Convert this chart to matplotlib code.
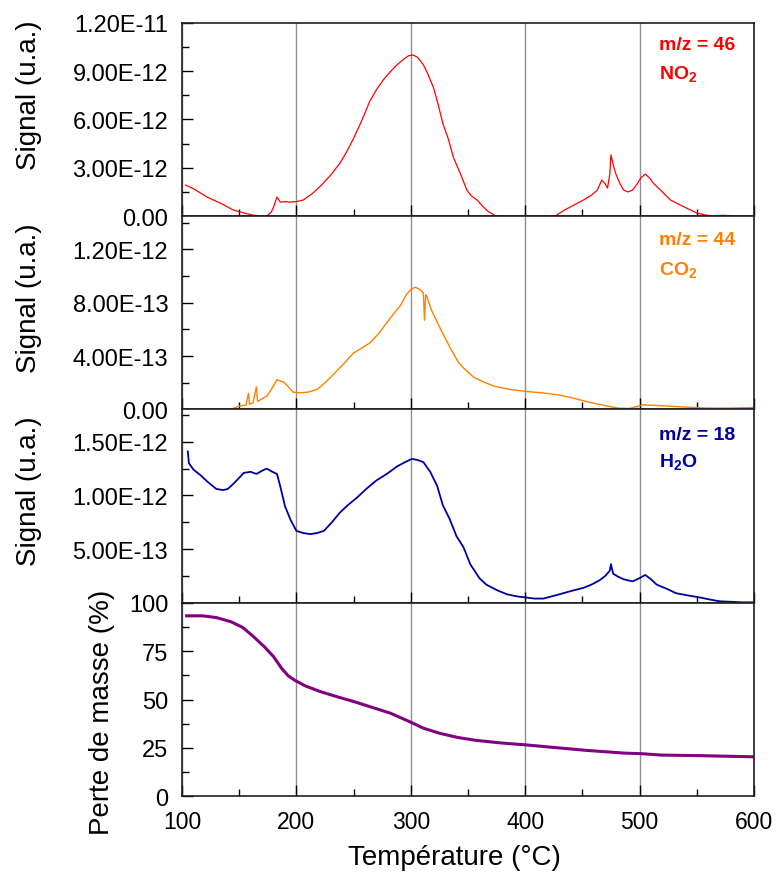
import matplotlib
matplotlib.use("Agg")
import matplotlib.pyplot as plt
from matplotlib.ticker import MultipleLocator, FuncFormatter, FixedLocator

plt.rcParams['font.family'] = ['Liberation Sans', 'DejaVu Sans']
plt.rcParams['mathtext.fontset'] = 'custom'
plt.rcParams['mathtext.bf'] = 'Liberation Sans:bold'
plt.rcParams['mathtext.rm'] = 'Liberation Sans'

# m/z = 46 (NO2), signal in 1e-12
t_no2 = [103, 110, 122, 135, 145, 155, 162, 168, 174, 178, 180, 183, 186, 190, 194, 200,
         206, 214, 222, 230, 238, 244, 250, 257, 264, 270, 276, 282, 288, 294, 298, 302,
         306, 311, 315, 320, 324, 328, 333, 337, 343, 349, 353, 358, 363, 368, 374, 381,
         388, 395, 405, 415, 420, 426, 435, 443, 451, 458, 463, 467, 470, 472, 474, 475,
         477, 479, 483, 486, 490, 494, 498, 501, 505, 509, 512, 520, 527, 534, 541, 550,
         557, 564, 572, 580, 586, 592, 600]
v_no2 = [1.93, 1.70, 1.18, 0.75, 0.37, 0.18, 0.06, 0.02, 0.0, 0.25, 0.56, 1.18, 0.87, 0.90,
         0.87, 0.90, 1.00, 1.40, 1.93, 2.55, 3.28, 4.00, 4.83, 5.90, 7.11, 7.85, 8.46, 8.95,
         9.39, 9.75, 9.95, 10.0, 9.85, 9.39, 8.80, 7.94, 6.90, 5.76, 4.75, 3.69, 2.70, 1.62,
         1.25, 1.00, 0.60, 0.27, 0.02, 0.0, -0.1, -0.2, -0.3, -0.2, -0.05, 0.0, 0.40, 0.70,
         1.00, 1.30, 1.60, 2.24, 2.00, 1.74, 2.60, 3.80, 3.20, 2.67, 2.00, 1.62, 1.50, 1.62,
         2.00, 2.36, 2.61, 2.35, 2.05, 1.50, 1.00, 0.75, 0.50, 0.19, 0.08, 0.0, 0.05, 0.03,
         -0.05, -0.1, -0.1]

# m/z = 44 (CO2), signal in 1e-13
t_co2 = [103, 120, 142, 150, 156, 158, 159, 162, 165, 166, 168, 174, 178, 183, 189, 193,
         197, 203, 210, 218, 225, 232, 240, 250, 257, 264, 272, 282, 291, 296, 300, 304,
         308, 311, 312, 313, 314, 318, 326, 335, 342, 347, 355, 364, 373, 387, 401, 415,
         429, 440, 450, 458, 467, 475, 482, 491, 497, 503, 515, 526, 540, 555, 570, 585, 600]
v_co2 = [0.0, 0.0, 0.0, 0.25, 0.35, 1.20, 0.40, 0.50, 1.70, 0.60, 0.70, 1.00, 1.50, 2.24,
         2.04, 1.70, 1.30, 1.25, 1.30, 1.50, 2.00, 2.60, 3.30, 4.24, 4.60, 4.98, 5.70, 6.85,
         7.80, 8.60, 9.00, 9.17, 9.00, 8.72, 6.70, 8.60, 8.50, 7.47, 6.03, 4.53, 3.49, 3.04,
         2.42, 2.05, 1.74, 1.50, 1.35, 1.25, 1.09, 0.90, 0.67, 0.50, 0.35, 0.20, 0.10, 0.08,
         0.20, 0.35, 0.30, 0.25, 0.18, 0.12, 0.10, 0.12, 0.15]

# m/z = 18 (H2O), signal in 1e-12
t_h2o = [105, 106, 110, 116, 122, 130, 136, 140, 146, 154, 160, 165, 170, 174, 179, 183,
         186, 190, 195, 200, 206, 212, 218, 224, 231, 238, 245, 253, 261, 270, 279, 288,
         295, 301, 306, 311, 317, 323, 328, 334, 340, 346, 352, 360, 366, 375, 384, 393,
         401, 408, 416, 423, 430, 440, 451, 458, 465, 470, 474, 475, 477, 482, 486, 494,
         500, 505, 510, 515, 524, 532, 542, 553, 562, 570, 580, 590, 600]
v_h2o = [1.41, 1.30, 1.24, 1.19, 1.13, 1.06, 1.05, 1.06, 1.12, 1.21, 1.22, 1.20, 1.23,
         1.25, 1.22, 1.20, 1.08, 0.90, 0.77, 0.67, 0.65, 0.64, 0.65, 0.67, 0.75, 0.84, 0.91,
         0.98, 1.06, 1.14, 1.20, 1.27, 1.31, 1.34, 1.33, 1.31, 1.22, 1.09, 0.91, 0.78, 0.62,
         0.52, 0.36, 0.23, 0.17, 0.12, 0.08, 0.06, 0.05, 0.04, 0.04, 0.06, 0.08, 0.11, 0.14,
         0.17, 0.21, 0.25, 0.30, 0.36, 0.27, 0.24, 0.22, 0.20, 0.23, 0.26, 0.22, 0.17, 0.13,
         0.09, 0.07, 0.05, 0.03, 0.015, 0.01, 0.005, 0.005]

# mass loss (%)
t_mass = [104, 118, 130, 143, 153, 162, 172, 180, 187, 193, 199, 208, 221, 237, 250, 266,
          282, 300, 311, 325, 341, 357, 380, 400, 422, 454, 487, 502, 519, 552, 600]
v_mass = [93.3, 93.3, 92.4, 90.2, 87.3, 82.8, 77.3, 72.2, 66.2, 62.2, 59.8, 57.0, 54.1,
          51.2, 49.0, 46.0, 43.0, 38.3, 35.2, 32.6, 30.4, 28.9, 27.5, 26.6, 25.4, 23.7,
          22.3, 22.0, 21.3, 21.0, 20.4]


def sci_fmt(v, pos):
    if abs(v) < 1e-20:
        return "0.00"
    return f"{v:.2E}"


fig, axes = plt.subplots(4, 1, sharex=True, figsize=(7.78, 8.79), dpi=100)
fig.subplots_adjust(left=0.234, right=0.969, top=0.973, bottom=0.093, hspace=0)

ax1, ax2, ax3, ax4 = axes
ax1.plot(t_no2, [v * 1e-12 for v in v_no2], color='#ff0000', lw=0.9)
ax2.plot(t_co2, [v * 1e-13 for v in v_co2], color='#ff8000', lw=1.0)
ax3.plot(t_h2o, [v * 1e-12 for v in v_h2o], color='#0000a0', lw=1.3)
ax4.plot(t_mass, v_mass, color='#800080', lw=2.2)

ax1.set_ylim(0, 1.2e-11)
ax1.yaxis.set_major_locator(MultipleLocator(3e-12))
ax1.yaxis.set_minor_locator(MultipleLocator(1.5e-12))
ax2.set_ylim(0, 1.45e-12)
ax2.yaxis.set_major_locator(MultipleLocator(4e-13))
ax2.yaxis.set_minor_locator(MultipleLocator(2e-13))
ax3.set_ylim(0, 1.8e-12)
ax3.yaxis.set_major_locator(FixedLocator([5e-13, 1e-12, 1.5e-12]))
ax3.yaxis.set_minor_locator(FixedLocator([2.5e-13, 7.5e-13, 1.25e-12, 1.75e-12]))
ax4.set_ylim(0, 100)
ax4.yaxis.set_major_locator(MultipleLocator(25))
ax4.yaxis.set_minor_locator(MultipleLocator(12.5))

for ax in (ax1, ax2, ax3):
    ax.yaxis.set_major_formatter(FuncFormatter(sci_fmt))

ax4.set_xlim(100, 600)
ax4.xaxis.set_major_locator(MultipleLocator(100))
ax4.xaxis.set_minor_locator(MultipleLocator(50))

for ax in axes:
    ax.xaxis.grid(True, which='major', color='#909090', lw=1.0)
    ax.set_axisbelow(True)
    ax.tick_params(which='both', direction='in', top=False, right=False,
                   width=1.0, pad=10, colors='black')
    ax.tick_params(axis='y', labelsize=17)
    ax.tick_params(axis='x', labelsize=16.5)
    ax.tick_params(which='major', length=8)
    ax.tick_params(which='minor', length=5)
    for s in ax.spines.values():
        s.set_linewidth(1.2)
        s.set_color('#202020')

ylabel_y = [0.63, 0.58, 0.585]
for ax, yy in zip((ax1, ax2, ax3), ylabel_y):
    ax.set_ylabel("Signal (u.a.)", fontsize=20)
    ax.yaxis.set_label_coords(-0.245, yy)
ax4.set_ylabel("Perte de masse (%)", fontsize=20)
ax4.yaxis.set_label_coords(-0.117, 0.44)
ax4.set_xlabel("Température (°C)", fontsize=20)
ax4.xaxis.set_label_coords(0.476, -0.245)

labels = [(ax1, "m/z = 46", r"$\mathbf{NO_2}$", '#ff0000', 0.932, 0.79),
          (ax2, "m/z = 44", r"$\mathbf{CO_2}$", '#ff8000', 0.923, 0.778),
          (ax3, "m/z = 18", r"$\mathbf{H_2O}$", '#0000a0', 0.913, 0.784)]
for ax, l1, l2, c, y1, y2 in labels:
    ax.text(0.834, y1, l1, transform=ax.transAxes, color=c, fontsize=14,
            fontweight='bold', va='top', ha='left')
    ax.text(0.834, y2, l2, transform=ax.transAxes, color=c, fontsize=14,
            va='top', ha='left')

fig.savefig("out.png", dpi=100)
